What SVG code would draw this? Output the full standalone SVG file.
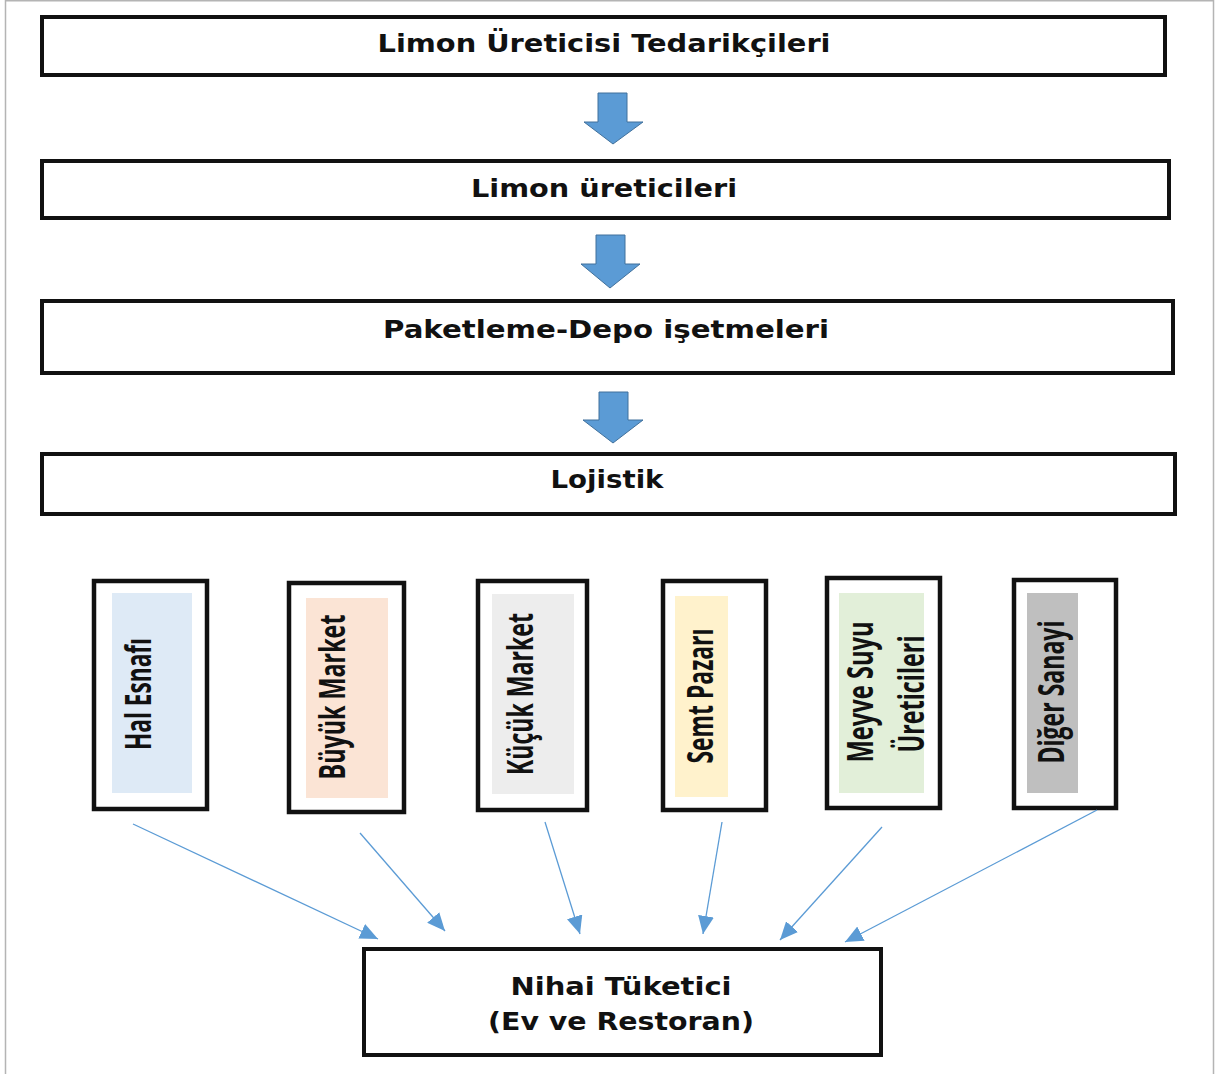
<svg xmlns="http://www.w3.org/2000/svg" width="1216" height="1074" viewBox="0 0 1216 1074">
<style>
.frame{fill:none;stroke:#b4b4b4;stroke-width:1.5}
.box{fill:#ffffff;stroke:#111111;stroke-width:4}
.vbox{fill:#ffffff;stroke:#111111;stroke-width:4.5}
.ht{font-family:"DejaVu Sans","Liberation Sans",sans-serif;font-weight:bold;font-size:24px;fill:#111111;text-anchor:middle}
.vt{font-family:"Open Sans","Liberation Sans",sans-serif;font-weight:bold;font-size:36px;fill:#111111;text-anchor:middle}
.blk{fill:#5B9BD5;stroke:#41719C;stroke-width:1}
.con{stroke:#5B9BD5;stroke-width:1.3;fill:none;marker-end:url(#ah)}
</style>
<defs>
<marker id="ah" markerUnits="userSpaceOnUse" markerWidth="20" markerHeight="16" refX="18" refY="8" orient="auto">
<path d="M0,0 L18,8 L0,16 z" fill="#5B9BD5"/>
</marker>
</defs>
<rect width="1216" height="1074" fill="#ffffff"/>
<path class="frame" d="M5.5,1074 V0.75 H1213.5 V1074"/>

<g id="n1">
<rect class="box" x="42" y="17" width="1123" height="58"/>
<text class="ht" x="604" y="52" textLength="453" lengthAdjust="spacingAndGlyphs">Limon Üreticisi Tedarikçileri</text>
</g>
<g id="a1"><path class="blk" d="M598,93 H627 V122 H643 L613,144 L584,122 H598 Z"/></g>
<g id="n2">
<rect class="box" x="42" y="161" width="1127" height="57"/>
<text class="ht" x="604" y="197" textLength="266" lengthAdjust="spacingAndGlyphs">Limon üreticileri</text>
</g>
<g id="a2"><path class="blk" d="M596,235 H625 V264 H640 L610,288 L581,264 H596 Z"/></g>
<g id="n3">
<rect class="box" x="42" y="301" width="1131" height="72"/>
<text class="ht" x="606" y="338" textLength="446" lengthAdjust="spacingAndGlyphs">Paketleme-Depo işetmeleri</text>
</g>
<g id="a3"><path class="blk" d="M599,392 H628 V420 H643 L613,443 L583,420 H599 Z"/></g>
<g id="n4">
<rect class="box" x="42" y="454" width="1133" height="60"/>
<text class="ht" x="607" y="488" textLength="113" lengthAdjust="spacingAndGlyphs">Lojistik</text>
</g>

<g id="v1">
<rect class="vbox" x="94" y="581" width="113" height="228"/>
<rect x="112" y="593" width="80" height="200" fill="#DEEAF6"/>
<text class="vt" transform="translate(151,694) rotate(-90)" textLength="112" lengthAdjust="spacingAndGlyphs">Hal Esnafı</text>
</g>
<g id="v2">
<rect class="vbox" x="289" y="583" width="115" height="229"/>
<rect x="306" y="598" width="82" height="200" fill="#FBE4D5"/>
<text class="vt" transform="translate(345,697) rotate(-90)" textLength="165" lengthAdjust="spacingAndGlyphs">Büyük Market</text>
</g>
<g id="v3">
<rect class="vbox" x="478" y="581" width="109" height="229"/>
<rect x="492" y="594" width="82" height="200" fill="#EDEDED"/>
<text class="vt" transform="translate(533,694) rotate(-90)" textLength="162" lengthAdjust="spacingAndGlyphs">Küçük Market</text>
</g>
<g id="v4">
<rect class="vbox" x="663" y="581" width="103" height="229"/>
<rect x="675" y="596" width="53" height="201" fill="#FFF2CC"/>
<text class="vt" transform="translate(713,696) rotate(-90)" textLength="135" lengthAdjust="spacingAndGlyphs">Semt Pazarı</text>
</g>
<g id="v5">
<rect class="vbox" x="827" y="578" width="113" height="230"/>
<rect x="839" y="593" width="85" height="200" fill="#E2EFD9"/>
<text class="vt" transform="translate(873,692) rotate(-90)" textLength="141" lengthAdjust="spacingAndGlyphs">Meyve Suyu</text>
<text class="vt" transform="translate(924,694) rotate(-90)" textLength="117" lengthAdjust="spacingAndGlyphs">Üreticileri</text>
</g>
<g id="v6">
<rect class="vbox" x="1014" y="580" width="102" height="228"/>
<rect x="1027" y="593" width="51" height="200" fill="#BFBFBF"/>
<text class="vt" transform="translate(1064,692) rotate(-90)" textLength="143" lengthAdjust="spacingAndGlyphs">Diğer Sanayi</text>
</g>

<g id="n5">
<rect class="box" x="364" y="949" width="517" height="106"/>
<text class="ht" x="621" y="995" textLength="221" lengthAdjust="spacingAndGlyphs">Nihai Tüketici</text>
<text class="ht" x="621" y="1030" textLength="266" lengthAdjust="spacingAndGlyphs">(Ev ve Restoran)</text>
</g>

<g id="connectors">
<line class="con" x1="133" y1="824" x2="378" y2="939"/>
<line class="con" x1="360" y1="833" x2="445" y2="931"/>
<line class="con" x1="545" y1="822" x2="580" y2="934"/>
<line class="con" x1="722" y1="822" x2="703" y2="934"/>
<line class="con" x1="882" y1="827" x2="780" y2="940"/>
<line class="con" x1="1097" y1="810" x2="845" y2="942"/>
</g>
</svg>
